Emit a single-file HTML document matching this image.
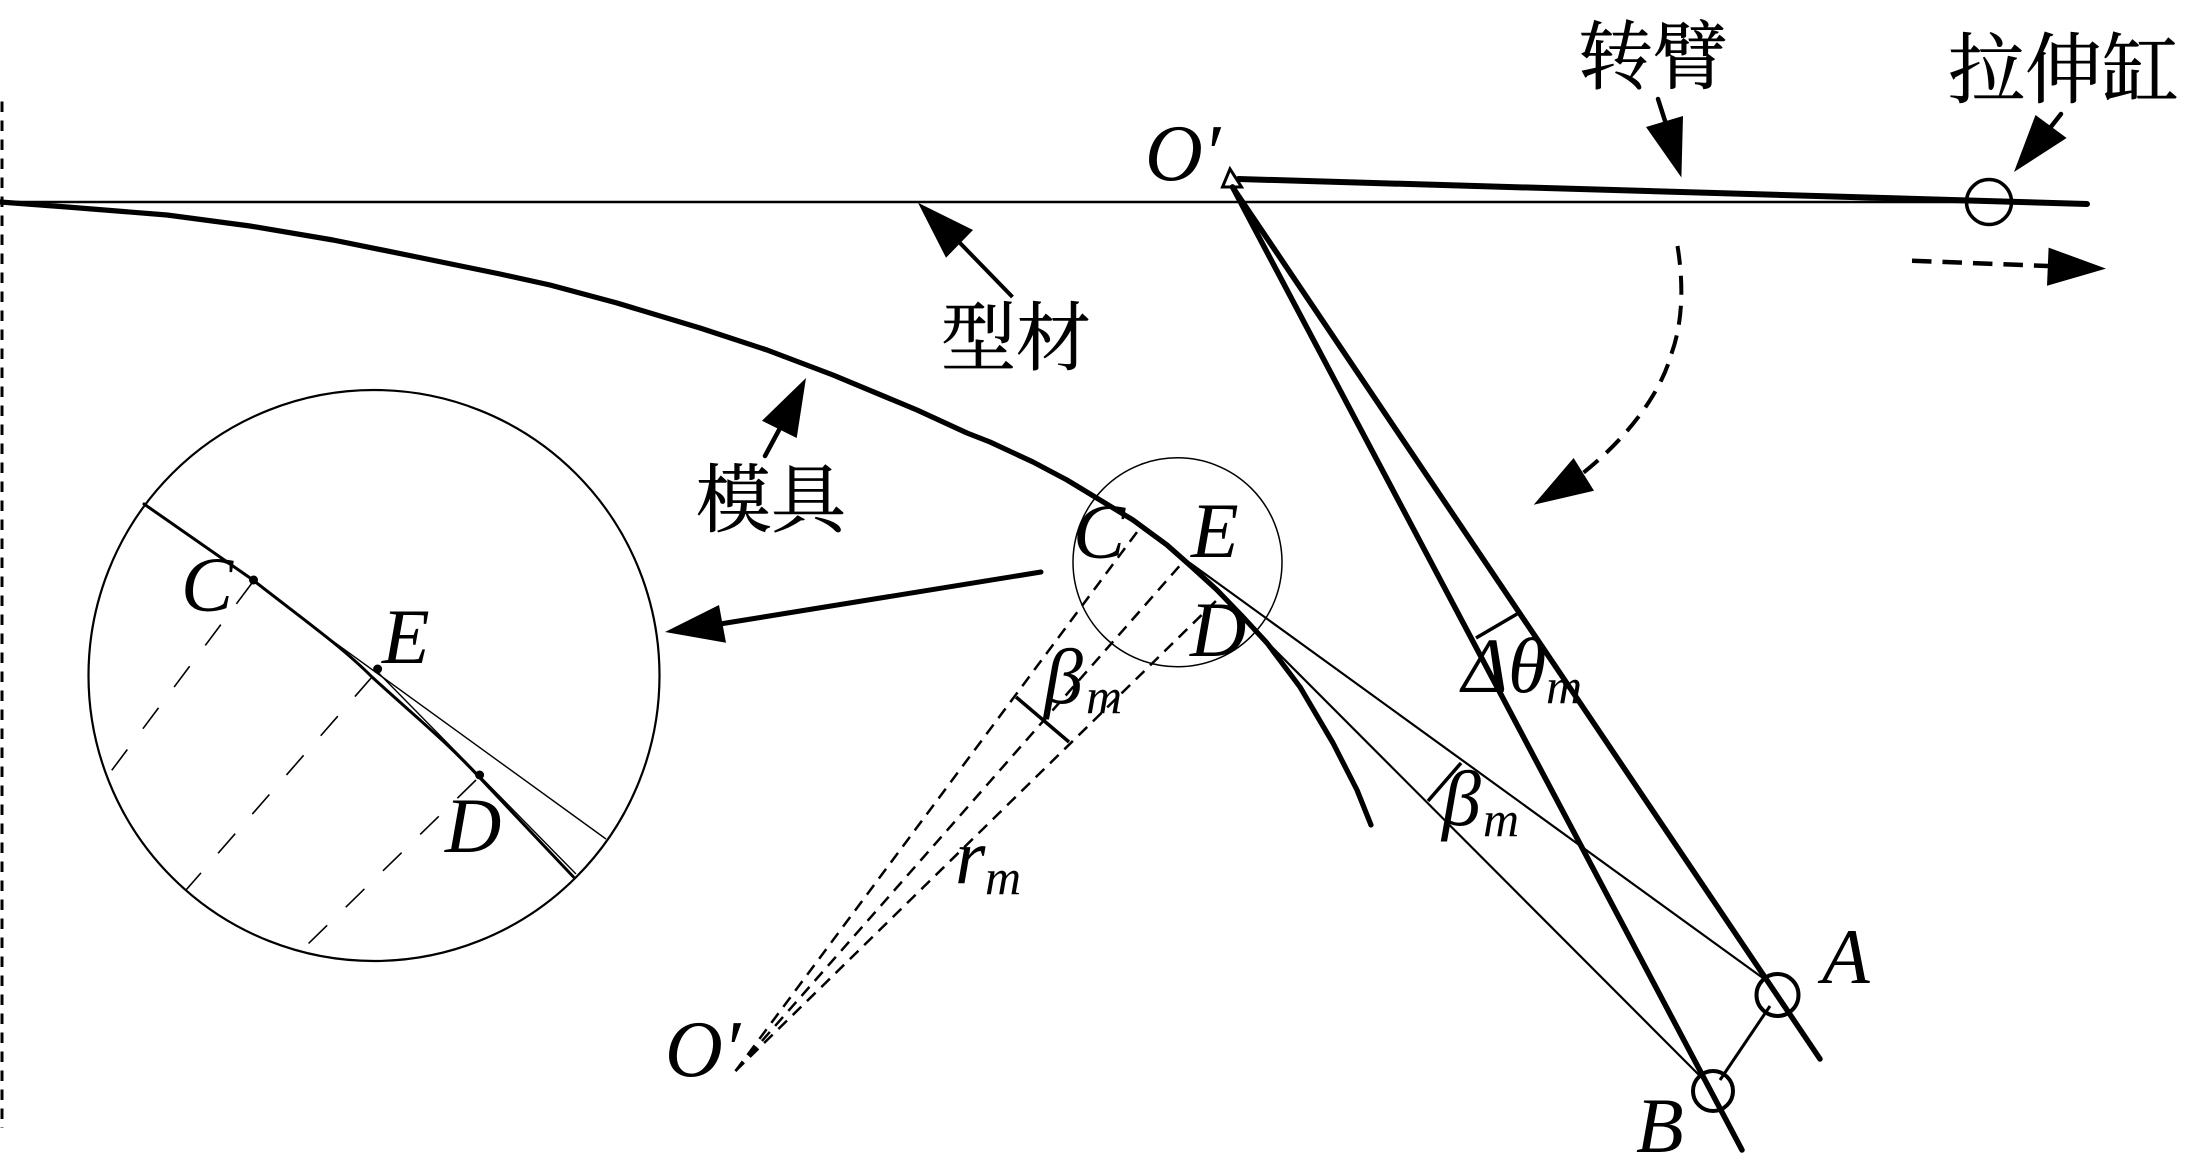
<!DOCTYPE html>
<html lang="zh">
<head>
<meta charset="utf-8">
<title>Diagram</title>
<style>
html,body{margin:0;padding:0;background:#fff;}
svg{display:block;}
.l{font-family:"Liberation Serif",serif;font-style:italic;font-size:78px;fill:#000;}
.s{font-family:"Liberation Serif",serif;font-style:italic;font-size:50px;fill:#000;}
.c{font-family:"Liberation Serif","Noto Serif CJK SC",serif;font-size:75px;fill:#000;stroke:#000;stroke-width:.6px;}
</style>
</head>
<body>
<svg width="2187" height="1175" viewBox="0 0 2187 1175" xmlns="http://www.w3.org/2000/svg">
<rect width="2187" height="1175" fill="#fff"/>
<g fill="none" stroke="#000" stroke-linecap="butt">
  <line x1="2" y1="101.5" x2="2" y2="1128" stroke-width="3" stroke-dasharray="10.5 8.5"/>
  <line x1="0" y1="202" x2="2000" y2="202" stroke-width="2.5"/>
  <polyline stroke-width="5.2" stroke-linejoin="round" stroke-linecap="round" points="0,202 67,207 167,215 250,226 333,240 417,257 500,274 550,285 617,303 700,328 767,350 833,375 917,410 967,433 990,442 1033,462 1067,480 1100,500 1133,520 1167,545 1193,568 1217,590 1243,617 1267,643 1300,687 1333,743 1357,790 1371,825"/>
  <!-- swing arm -->
  <line x1="1238.5" y1="179" x2="2087" y2="204" stroke-width="6" stroke-linecap="round"/>
  <line x1="1232.5" y1="187" x2="1820" y2="1059" stroke-width="5.5" stroke-linecap="round"/>
  <line x1="1232.5" y1="187" x2="1742" y2="1150" stroke-width="5.5" stroke-linecap="round"/>
  <polygon points="1230,169 1222.5,187 1241.5,187" stroke-width="3"/>
  <circle cx="1989" cy="202" r="22.5" stroke-width="3.5"/>
  <circle cx="1777.5" cy="995" r="21" stroke-width="4"/>
  <circle cx="1713" cy="1091" r="20" stroke-width="4"/>
  <line x1="1770" y1="1006" x2="1720" y2="1080" stroke-width="3"/>
  <!-- thin lines -->
  <line x1="1190" y1="563" x2="1767" y2="981" stroke-width="2.2"/>
  <line x1="1215" y1="590" x2="1704" y2="1080" stroke-width="2.2"/>
  <line x1="1476" y1="638" x2="1517" y2="614" stroke-width="3.5"/>
  <line x1="1428" y1="801" x2="1461" y2="763" stroke-width="3.5"/>
  <line x1="1016" y1="697" x2="1069" y2="742" stroke-width="3.5"/>
  <!-- O' dashed lines -->
  <line x1="735.5" y1="1071" x2="1140" y2="528" stroke-width="2.5" stroke-dasharray="12 8"/>
  <line x1="735.5" y1="1071" x2="1183" y2="562" stroke-width="2.5" stroke-dasharray="12 8"/>
  <line x1="735.5" y1="1071" x2="1220" y2="597" stroke-width="2.5" stroke-dasharray="12 8"/>
  <!-- small circle -->
  <circle cx="1177.5" cy="562.3" r="104.5" stroke-width="1.5"/>
  <!-- inset circle -->
  <circle cx="374" cy="675.5" r="285.5" stroke-width="2.2"/>
  <path stroke-width="3" stroke-linecap="round" d="M144,504 L253,580 C300,617 340,645 372,677 C410,712 445,740 480,778 L573.5,877"/>
  <line x1="305" y1="621" x2="606" y2="839" stroke-width="1.4"/>
  <line x1="377.6" y1="672" x2="576" y2="874" stroke-width="1.4"/>
  <line x1="252" y1="583" x2="109" y2="774" stroke-width="1.6" stroke-dasharray="26 26"/>
  <line x1="372" y1="677" x2="186" y2="890" stroke-width="1.6" stroke-dasharray="26 26"/>
  <line x1="476" y1="780" x2="307" y2="945" stroke-width="1.6" stroke-dasharray="26 26"/>
  <!-- arrow shafts -->
  <line x1="1658" y1="99" x2="1666" y2="124" stroke-width="4.5" stroke-linecap="round"/>
  <line x1="2061" y1="114" x2="2050" y2="128" stroke-width="4.5" stroke-linecap="round"/>
  <line x1="1012.5" y1="297" x2="960" y2="243" stroke-width="4"/>
  <line x1="765" y1="456" x2="779" y2="430" stroke-width="4.5" stroke-linecap="round"/>
  <line x1="1041" y1="572" x2="720" y2="624" stroke-width="5" stroke-linecap="round"/>
  <line x1="1912" y1="260.7" x2="2048" y2="266" stroke-width="4.5" stroke-dasharray="19.5 11"/>
  <path d="M1677.5,246 C1683,280 1684,320 1671,355 C1660,395 1625,440 1583,473" stroke-width="4" stroke-dasharray="19 11"/>
</g>
<g fill="#000">
  <polygon points="1681.4,177.5 1646,127 1683,116"/>
  <polygon points="2014,172 2035.5,115 2066.6,138"/>
  <polygon points="918,202.7 973,230 946,257.7"/>
  <polygon points="806,378 762,420.7 796.7,438"/>
  <polygon points="665,632 719,605 726,642.7"/>
  <polygon points="2106,268.6 2048.6,247.6 2047,285.7"/>
  <polygon points="1533.7,504.8 1573.6,458 1594,490.8"/>
  <circle cx="253.5" cy="580" r="4.5"/>
  <circle cx="377.6" cy="669" r="4.5"/>
  <circle cx="479.6" cy="775" r="4.5"/>
</g>
<text class="c" x="1578" y="83">转臂</text>
<text class="c" x="1948" y="97" style="font-size:77px">拉伸缸</text>
<text class="c" x="941" y="364">型材</text>
<text class="c" x="696" y="526">模具</text>
<text class="l" x="1145" y="180" style="font-size:80px">O′</text>
<text class="l" x="665" y="1076" style="font-size:80px">O′</text>
<text class="l" x="1073" y="558">C</text>
<text class="l" x="1191" y="557">E</text>
<text class="l" x="1190" y="656">D</text>
<text class="l" x="1462" y="692">Δ</text>
<text class="l" x="1508" y="692">θ</text>
<text class="s" x="1546" y="703">m</text>
<text class="l" x="1442" y="825">β</text>
<text class="s" x="1483" y="836">m</text>
<text class="l" x="1044" y="703">β</text>
<text class="s" x="1086" y="713">m</text>
<text class="l" x="955" y="883">r</text>
<text class="s" x="985" y="894">m</text>
<text class="l" x="1822" y="983">A</text>
<text class="l" x="1636" y="1152">B</text>
<text class="l" x="181" y="611">C</text>
<text class="l" x="382" y="663">E</text>
<text class="l" x="445" y="852">D</text>
</svg>
</body>
</html>
